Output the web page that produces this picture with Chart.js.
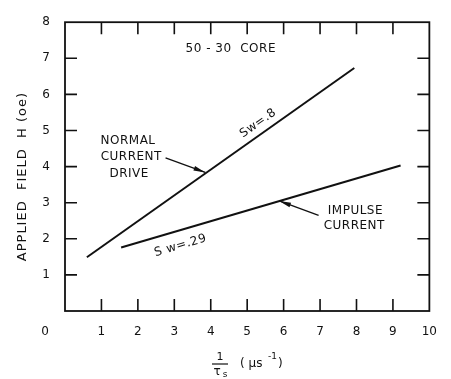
<!DOCTYPE html>
<html>
<head>
<meta charset="utf-8">
<script src="https://cdn.jsdelivr.net/npm/chart.js@4/dist/chart.umd.min.js"></script>
<style>
  html, body { margin: 0; padding: 0; background: #fff; }
  #chart { display: block; }
</style>
</head>
<body>
<canvas id="chart" width="451" height="379"></canvas>
<script>
// ---- data ----
const normalX = [0.6, 7.94];
const normalY = [1.49, 6.73];
const impulseX = [1.54, 9.21];
const impulseY = [1.76, 4.03];
const xTickValues = [0, 1, 2, 3, 4, 5, 6, 7, 8, 9, 10];
const yTickValues = [1, 2, 3, 4, 5, 6, 7, 8];

const INK = '#111111';
const FONT = "'DejaVu Sans', sans-serif";

function toPoints(xs, ys) {
  return xs.map((x, i) => ({ x: x, y: ys[i] }));
}

// frame, inward ticks, titles and notes
const decorPlugin = {
  id: 'decor',
  afterDraw(chart) {
    const ctx = chart.ctx;
    const xs = chart.scales.x, ys = chart.scales.y;
    const a = chart.chartArea;
    const px = v => xs.getPixelForValue(v);
    const py = v => ys.getPixelForValue(v);

    ctx.save();
    ctx.strokeStyle = INK;
    ctx.fillStyle = INK;
    ctx.lineWidth = 1.8;
    ctx.strokeRect(a.left, a.top, a.right - a.left, a.bottom - a.top);

    // inward tick marks on all four sides
    const len = 12;
    ctx.lineWidth = 1.6;
    ctx.beginPath();
    xTickValues.slice(1, -1).forEach(v => {
      ctx.moveTo(px(v), a.bottom); ctx.lineTo(px(v), a.bottom - len);
      ctx.moveTo(px(v), a.top); ctx.lineTo(px(v), a.top + len);
    });
    yTickValues.slice(0, -1).forEach(v => {
      ctx.moveTo(a.left, py(v)); ctx.lineTo(a.left + len, py(v));
      ctx.moveTo(a.right, py(v)); ctx.lineTo(a.right - len, py(v));
    });
    ctx.stroke();

    // origin label sits under the y labels
    ctx.font = '12px ' + FONT;
    ctx.textAlign = 'center';
    ctx.textBaseline = 'middle';
    ctx.fillText('0', a.left - 20, a.bottom + 21);

    // y title
    ctx.save();
    ctx.translate(23, (a.top + a.bottom) / 2 + 10);
    ctx.rotate(-Math.PI / 2);
    ctx.font = '13px ' + FONT;
    ctx.letterSpacing = '1px';
    ctx.fillText('APPLIED  FIELD  H (oe)', 0, 0);
    ctx.restore();

    // x title: 1/τs (μs^-1)
    const cx = 220;
    ctx.font = '11px ' + FONT;
    ctx.fillText('1', cx, 357);
    ctx.lineWidth = 1.2;
    ctx.beginPath();
    ctx.moveTo(cx - 8, 364); ctx.lineTo(cx + 8, 364);
    ctx.stroke();
    ctx.font = '12px ' + FONT;
    ctx.fillText('τ', cx - 3, 372);
    ctx.font = '9px ' + FONT;
    ctx.fillText('s', cx + 5, 375);
    ctx.font = '12px ' + FONT;
    ctx.textAlign = 'left';
    ctx.fillText('( μs', 240, 364);
    ctx.font = '9px ' + FONT;
    ctx.fillText('-1', 268, 357);
    ctx.font = '12px ' + FONT;
    ctx.fillText(')', 278, 364);

    // notes
    ctx.textAlign = 'center';
    ctx.font = '12px ' + FONT;
    ctx.letterSpacing = '0.5px';
    ctx.fillText('50 - 30  CORE', px(4.55), py(7.27));
    ctx.fillText('NORMAL', px(1.73), py(4.70));
    ctx.fillText('CURRENT', px(1.82), py(4.27));
    ctx.fillText('DRIVE', px(1.76), py(3.81));
    ctx.fillText('IMPULSE', px(7.97), py(2.78));
    ctx.fillText('CURRENT', px(7.94), py(2.35));

    // labels along the lines
    const along = (text, xv, yv, lx, ly) => {
      const ang = Math.atan2(py(ly[1]) - py(ly[0]), px(lx[1]) - px(lx[0]));
      ctx.save();
      ctx.translate(px(xv), py(yv));
      ctx.rotate(ang);
      ctx.fillText(text, 0, 0);
      ctx.restore();
    };
    along('Sw=.8', 5.3, 5.2, normalX, normalY);
    along('S w=.29', 3.17, 1.81, impulseX, impulseY);
    ctx.letterSpacing = '0px';

    // arrows
    const arrow = (x1, y1, x2, y2) => {
      const X1 = px(x1), Y1 = py(y1), X2 = px(x2), Y2 = py(y2);
      const ang = Math.atan2(Y2 - Y1, X2 - X1);
      ctx.lineWidth = 1.3;
      ctx.beginPath();
      ctx.moveTo(X1, Y1); ctx.lineTo(X2, Y2);
      ctx.stroke();
      ctx.beginPath();
      ctx.moveTo(X2, Y2);
      ctx.lineTo(X2 - 12 * Math.cos(ang - 0.2), Y2 - 12 * Math.sin(ang - 0.2));
      ctx.lineTo(X2 - 12 * Math.cos(ang + 0.2), Y2 - 12 * Math.sin(ang + 0.2));
      ctx.closePath();
      ctx.fill();
    };
    arrow(2.76, 4.24, 3.85, 3.84);
    arrow(6.96, 2.65, 5.88, 3.05);
    ctx.restore();
  }
};

const ctx = document.getElementById('chart').getContext('2d');
new Chart(ctx, {
  type: 'scatter',
  data: {
    datasets: [
      {
        label: 'Normal current drive',
        data: toPoints(normalX, normalY),
        showLine: true,
        borderColor: INK,
        borderWidth: 2,
        pointRadius: 0
      },
      {
        label: 'Impulse current',
        data: toPoints(impulseX, impulseY),
        showLine: true,
        borderColor: INK,
        borderWidth: 2,
        pointRadius: 0
      }
    ]
  },
  options: {
    responsive: false,
    animation: false,
    layout: { padding: { left: 0, top: 15, right: 17, bottom: 0 } },
    plugins: {
      legend: { display: false },
      tooltip: { enabled: false }
    },
    scales: {
      x: {
        type: 'linear',
        min: 0,
        max: 10,
        afterFit: scale => { scale.height = 68; },
        afterBuildTicks: scale => { scale.ticks = xTickValues.map(v => ({ value: v })); },
        grid: { display: false, drawTicks: false },
        border: { display: false },
        ticks: {
          color: INK,
          padding: 14,
          maxRotation: 0,
          autoSkip: false,
          font: { family: FONT, size: 12 },
          callback: v => (v === 0 ? '' : String(v))
        }
      },
      y: {
        type: 'linear',
        min: 0,
        max: 8,
        afterFit: scale => { scale.width = 65; },
        afterBuildTicks: scale => { scale.ticks = yTickValues.map(v => ({ value: v })); },
        grid: { display: false, drawTicks: false },
        border: { display: false },
        ticks: {
          color: INK,
          padding: 15,
          autoSkip: false,
          font: { family: FONT, size: 12 }
        }
      }
    }
  },
  plugins: [decorPlugin]
});
</script>
</body>
</html>
